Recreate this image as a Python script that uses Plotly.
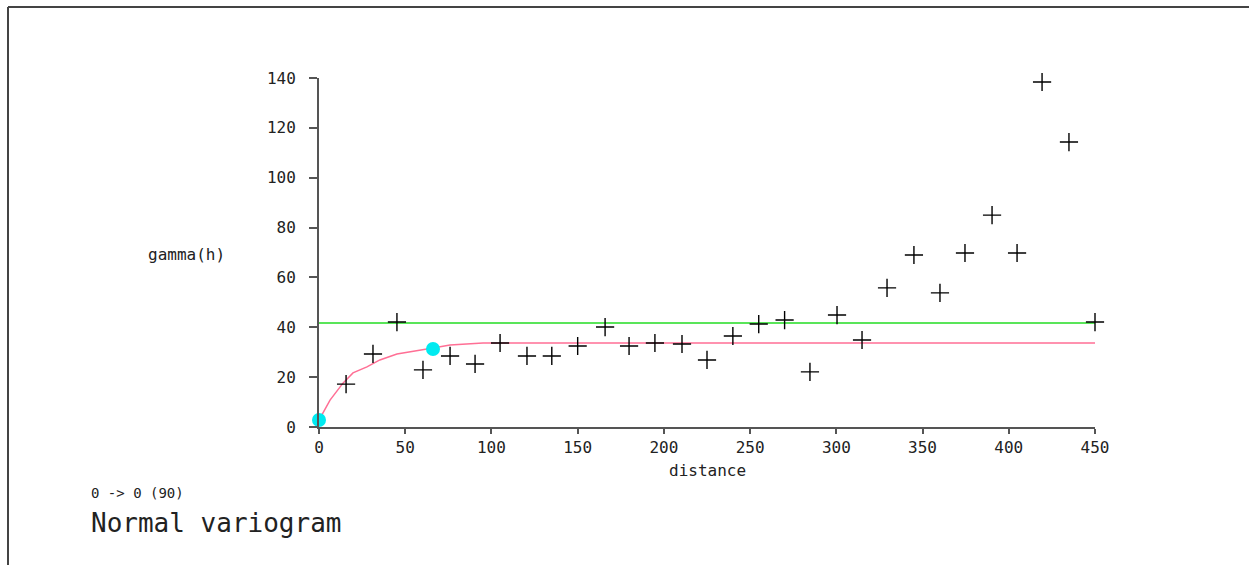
import plotly.graph_objects as go

# experimental variogram points (distance, gamma)
lag_distance = [15.7, 31.3, 45.2, 60.3, 76.0, 90.5, 105.0, 120.6, 135.0, 150.0,
                165.9, 179.8, 194.8, 210.5, 225.0, 240.0, 255.0, 270.0, 284.7, 300.4,
                314.9, 329.4, 345.0, 360.1, 374.6, 390.3, 404.8, 419.3, 434.9, 450.0]
gamma_values = [17.2, 29.3, 42.1, 22.9, 28.5, 25.3, 33.7, 28.5, 28.5, 32.5,
                40.1, 32.5, 33.7, 33.3, 26.9, 36.5, 41.3, 42.9, 22.1, 44.9,
                34.9, 55.8, 69.0, 53.8, 69.8, 85.0, 69.8, 138.4, 114.3, 42.1]

# fitted model curve
model_distance = [0, 6.4, 13.9, 19.7, 27.8, 35.3, 45.2, 54.5, 66.1, 76.0, 95.1, 110.8, 450]
model_gamma = [2.8, 10.8, 17.6, 21.7, 24.1, 26.9, 29.3, 30.5, 31.7, 32.9, 33.7, 33.7, 33.7]

# sample variance line
variance_x = [0, 450]
variance_y = [41.7, 41.7]

# model handles
handle_x = [0, 66.1]
handle_y = [2.8, 31.3]

x_ticks = [0, 50, 100, 150, 200, 250, 300, 350, 400, 450]
y_ticks = [0, 20, 40, 60, 80, 100, 120, 140]

FONT = "DejaVu Sans Mono"
TXT = "#222"

fig = go.Figure()
fig.add_trace(go.Scatter(x=variance_x, y=variance_y, mode="lines",
                         line=dict(color="#22dd22", width=1.5), hoverinfo="skip"))
fig.add_trace(go.Scatter(x=model_distance, y=model_gamma, mode="lines",
                         line=dict(color="#ff6f95", width=1.5), hoverinfo="skip"))
fig.add_trace(go.Scatter(x=lag_distance, y=gamma_values, mode="markers",
                         marker=dict(symbol="cross-thin", size=13,
                                     line=dict(color="black", width=1.4)),
                         cliponaxis=False))
fig.add_trace(go.Scatter(x=handle_x, y=handle_y, mode="markers",
                         marker=dict(symbol="circle", size=14, color="#00eaf0",
                                     line=dict(width=0)),
                         cliponaxis=False))

W, H = 1249, 565
L, R, T, B = 319, 1095, 78, 427
pw, ph = R - L, B - T


def px(xp):
    return (xp - L) / pw


def py(yp):
    return (B - yp) / ph


fig.update_layout(
    width=W, height=H,
    margin=dict(l=L, r=W - R, t=T, b=H - B),
    paper_bgcolor="white", plot_bgcolor="white",
    showlegend=False,
    font=dict(family=FONT, color=TXT, size=14),
    xaxis=dict(range=[0, 450], tickvals=x_ticks, showgrid=False, zeroline=False,
               showline=True, linecolor="#555", linewidth=2,
               ticks="outside", ticklen=5, tickcolor="#555", tickwidth=1.5,
               tickfont=dict(family=FONT, size=16, color=TXT)),
    yaxis=dict(range=[0, 140], tickvals=y_ticks, showgrid=False, zeroline=False,
               showline=True, linecolor="#555", linewidth=2,
               ticks="outside", ticklen=8, tickcolor="#555", tickwidth=1.5,
               ticklabelstandoff=10,
               tickfont=dict(family=FONT, size=16, color=TXT)),
    shapes=[
        dict(type="line", xref="paper", yref="paper", x0=px(8), x1=px(8),
             y0=py(H + 5), y1=py(7), line=dict(color="#444", width=2)),
        dict(type="line", xref="paper", yref="paper", x0=px(8), x1=px(W + 5),
             y0=py(7), y1=py(7), line=dict(color="#444", width=2)),
    ],
    annotations=[
        dict(text="gamma(h)", xref="paper", yref="paper", x=px(186), y=py(254),
             showarrow=False, xanchor="center", yanchor="middle",
             font=dict(family=FONT, size=16, color=TXT)),
        dict(text="distance", xref="paper", yref="paper", x=px(707), y=py(470),
             showarrow=False, xanchor="center", yanchor="middle",
             font=dict(family=FONT, size=16, color=TXT)),
        dict(text="0 -> 0 (90)", xref="paper", yref="paper", x=px(89), y=py(493),
             showarrow=False, xanchor="left", yanchor="middle",
             font=dict(family=FONT, size=14, color=TXT)),
        dict(text="Normal variogram", xref="paper", yref="paper", x=px(89), y=py(523),
             showarrow=False, xanchor="left", yanchor="middle",
             font=dict(family=FONT, size=26, color=TXT)),
    ],
)

fig.write_html("out.html")
